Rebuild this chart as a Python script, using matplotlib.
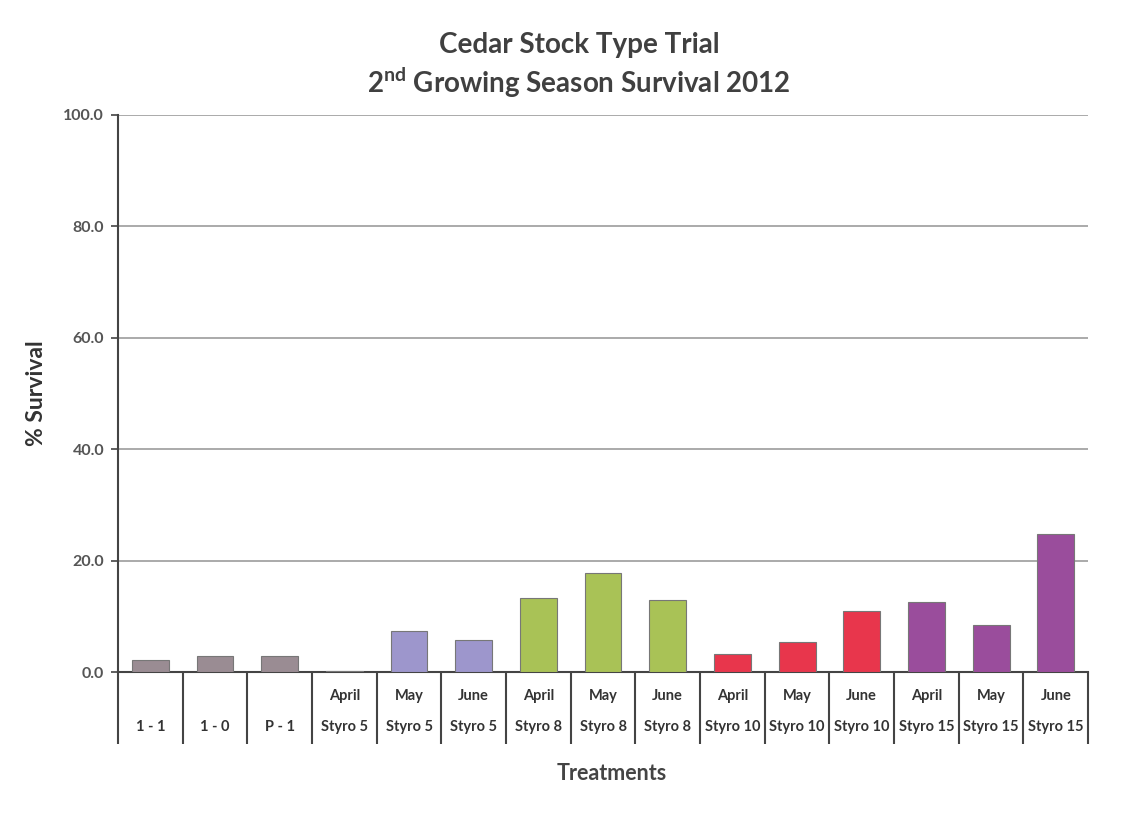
import matplotlib
matplotlib.use("Agg")
import matplotlib.pyplot as plt
import numpy as np

categories = ["\n1 - 1", "\n1 - 0", "\nP - 1",
              "April\nStyro 5", "May\nStyro 5", "June\nStyro 5",
              "April\nStyro 8", "May\nStyro 8", "June\nStyro 8",
              "April\nStyro 10", "May\nStyro 10", "June\nStyro 10",
              "April\nStyro 15", "May\nStyro 15", "June\nStyro 15"]
survival = [2.2, 2.9, 2.9, 0.3, 7.4, 5.8, 13.3, 17.8, 12.9, 3.2, 5.5, 10.9, 12.6, 8.5, 24.8]
groups = ["bare", "bare", "bare", "s5", "s5", "s5", "s8", "s8", "s8",
          "s10", "s10", "s10", "s15", "s15", "s15"]
group_colors = {"bare": "#9a8c93", "s5": "#9d96cc", "s8": "#a9c256",
                "s10": "#e8364c", "s15": "#9a4d9c"}
yticks = [0, 20, 40, 60, 80, 100]

plt.rcParams['font.family'] = ['Lato', 'DejaVu Sans']
plt.rcParams['mathtext.fontset'] = 'custom'
plt.rcParams['mathtext.bf'] = 'Lato:bold'
plt.rcParams['mathtext.rm'] = 'Lato'
fig = plt.figure(figsize=(11.4, 8.33), dpi=100)
ax = fig.add_axes([0.1035, 0.193, 0.851, 0.669])

x = np.arange(len(categories))
colors = [group_colors[g] for g in groups]
ax.bar(x, survival, width=0.57, color=colors, edgecolor="#777777", linewidth=0.8, zorder=3)

ax.set_xlim(-0.5, len(categories) - 0.5)
ax.set_ylim(0, 100)
ax.set_yticks(yticks)
ax.set_yticklabels([f"{v:.1f}" for v in yticks], fontsize=11.5, fontweight="bold", color="#555555")
ax.yaxis.grid(True, color="#aaaaaa", linewidth=1.4, zorder=0)
ax.tick_params(axis="y", length=5, width=1.2, color="#444444", pad=5)

ax.set_xticks(np.arange(-0.5, len(categories), 1.0))
ax.set_xticklabels([])
ax.tick_params(axis="x", which="major", length=52, width=1.5, color="#444444")
ax.set_xticks(x, minor=True)
ax.set_xticklabels(categories, minor=True, fontsize=10.5, fontweight="bold",
                   color="#333333", linespacing=2.55)
ax.tick_params(axis="x", which="minor", length=0, pad=12)

for s in ["top", "right"]:
    ax.spines[s].set_visible(False)
ax.spines["left"].set_color("#444444")
ax.spines["left"].set_linewidth(1.5)
ax.spines["bottom"].set_color("#444444")
ax.spines["bottom"].set_linewidth(1.5)

ax.set_ylabel("% Survival", fontsize=16.5, fontweight="bold", color="#333333", labelpad=12)
fig.text(0.537, 0.072, "Treatments", ha="center", va="center", fontsize=15.5,
         fontweight="bold", color="#444444")

fig.text(0.508, 0.946, "Cedar Stock Type Trial", ha="center", va="center",
         fontsize=20, fontweight="bold", color="#404040")
fig.text(0.508, 0.901, r"2$^{\mathbf{nd}}$ Growing Season Survival 2012",
         ha="center", va="center", fontsize=20, fontweight="bold", color="#404040")

fig.savefig("out.png", dpi=100)
